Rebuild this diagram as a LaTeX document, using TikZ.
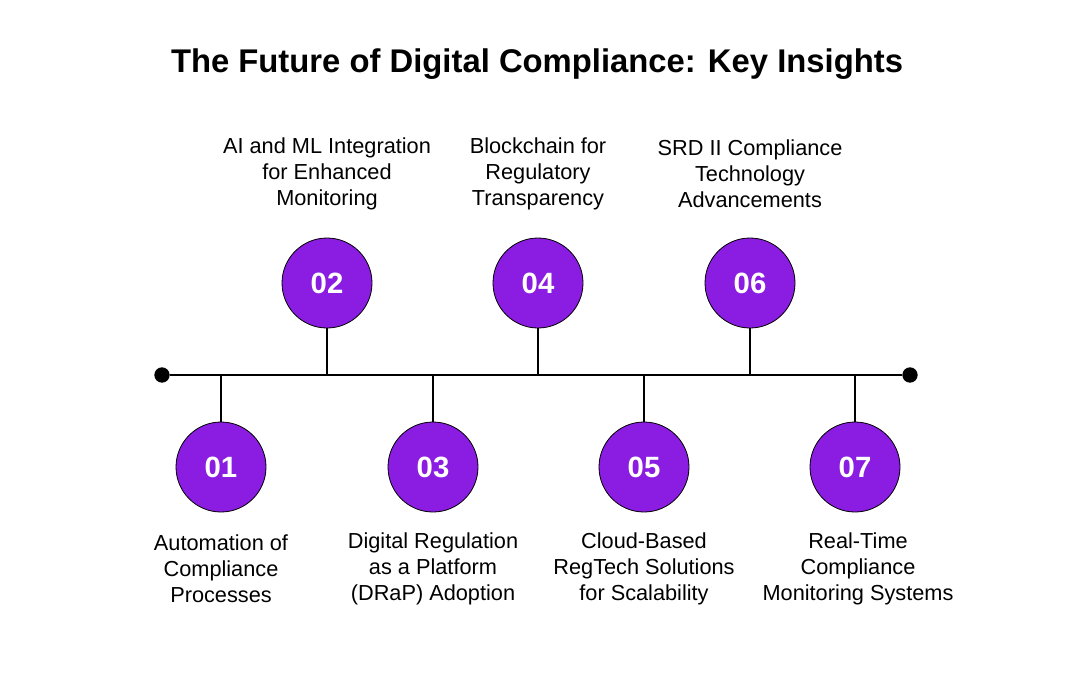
\documentclass[tikz,border=0pt]{standalone}
\usepackage{fontspec}
\setmainfont{Liberation Sans}
\begin{document}
\begin{tikzpicture}[x=0.75pt,y=-0.75pt,
  circ/.style={circle,draw=black,line width=0.6pt,fill=purp,minimum size=67.5pt,inner sep=0pt,text=white,font=\fontsize{22}{26}\selectfont\bfseries},
  lbl/.style={align=center,font=\fontsize{16.3}{19.5}\selectfont,text=black,inner sep=0pt},
  stem/.style={line width=2.2pt,black},
  dot/.style={circle,fill=black,minimum size=11.5pt,inner sep=0pt}]
\definecolor{purp}{RGB}{139,29,226}
\useasboundingbox (0,0) rectangle (1080,682);
\fill[white] (0,0) rectangle (1080,682);
\node[font=\fontsize{24.6}{29}\selectfont\bfseries] (title) at (537,64) {The Future of Digital Compliance: Key Insights};
\node[dot] (L) at (162,375) {};
\node[dot] (R) at (910,375) {};
\draw[stem] (L) -- (R);
% bottom
\foreach \n/\x in {01/221,03/433,05/644,07/855}{
  \coordinate (a\n) at (\x,375);
  \node[circ] (c\n) at (\x,467) {\n};
  \draw[stem] (a\n) -- (c\n);
}
\foreach \n/\x in {02/327,04/538,06/750}{
  \coordinate (a\n) at (\x,375);
  \node[circ] (c\n) at (\x,283) {\n};
  \draw[stem] (a\n) -- (c\n);
}
\node[lbl] (t02) at (327,174) {AI and ML Integration\\for Enhanced\\Monitoring};
\node[lbl] (t04) at (538,174) {Blockchain for\\Regulatory\\Transparency};
\node[lbl] (t06) at (750,174) {SRD II Compliance\\Technology\\Advancements};
\node[lbl] (t01) at (221,569) {Automation of\\Compliance\\Processes};
\node[lbl] (t03) at (433,569) {Digital Regulation\\as a Platform\\(DRaP) Adoption};
\node[lbl] (t05) at (644,569) {Cloud-Based\\RegTech Solutions\\for Scalability};
\node[lbl] (t07) at (858,569) {Real-Time\\Compliance\\Monitoring Systems};
\end{tikzpicture}
\end{document}
